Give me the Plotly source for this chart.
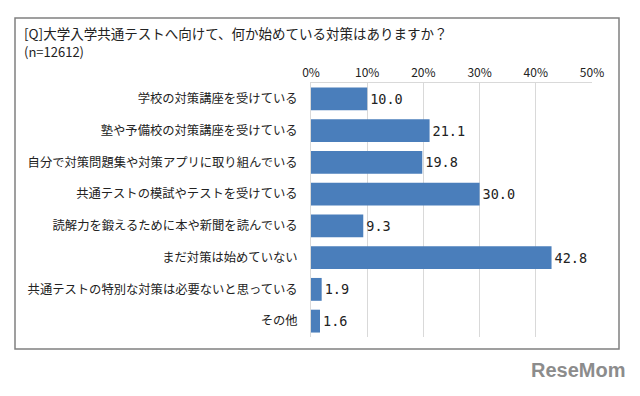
import plotly.graph_objects as go

categories = [
    "学校の対策講座を受けている",
    "塾や予備校の対策講座を受けている",
    "自分で対策問題集や対策アプリに取り組んでいる",
    "共通テストの模試やテストを受けている",
    "読解力を鍛えるために本や新聞を読んでいる",
    "まだ対策は始めていない",
    "共通テストの特別な対策は必要ないと思っている",
    "その他",
]
values = [10.0, 21.1, 19.8, 30.0, 9.3, 42.8, 1.9, 1.6]
tick_values = [0, 10, 20, 30, 40, 50]
tick_labels = ["0%", "10%", "20%", "30%", "40%", "50%"]
title_text = "[Q]大学入学共通テストへ向けて、何か始めている対策はありますか？"
subtitle_text = "(n=12612)"

# page body has an 8px margin; the figure fills the rest of the 640x396 window
OX, OY = 8, 8
W, H = 624, 380
JP = "Noto Sans CJK JP, sans-serif"


def px(x):
    return (x - OX) / W


def py(y):
    return 1 - (y - OY) / H


fig = go.Figure(
    go.Bar(
        x=values,
        y=categories,
        orientation="h",
        marker=dict(color="#4A7EBB", line=dict(width=0)),
        text=[f"{v:.1f}" for v in values],
        textposition="outside",
        textfont=dict(family="DejaVu Sans Mono, monospace", size=13.5, color="#222222"),
        cliponaxis=False,
        hoverinfo="skip",
    )
)

fig.update_layout(
    width=W,
    height=H,
    autosize=False,
    margin=dict(l=0, r=0, t=0, b=0, pad=0, autoexpand=False),
    paper_bgcolor="white",
    plot_bgcolor="white",
    bargap=0.28,
    showlegend=False,
    font=dict(family=JP, size=12, color="#222222"),
    xaxis=dict(
        domain=[px(311), px(592)],
        range=[0, 50],
        side="top",
        tickvals=tick_values,
        ticktext=tick_labels,
        showgrid=True,
        gridcolor="#D9D9D9",
        gridwidth=1,
        zeroline=False,
        showline=True,
        linecolor="#D9D9D9",
        mirror=False,
        ticks="",
        automargin=False,
        tickfont=dict(family=JP, size=12, color="#222222"),
        fixedrange=True,
    ),
    yaxis=dict(
        domain=[py(337), py(83)],
        autorange="reversed",
        showgrid=False,
        showline=True,
        linecolor="#D9D9D9",
        ticks="",
        automargin=False,
        ticklabelstandoff=10,
        tickfont=dict(family=JP, size=12.3, color="#222222"),
        fixedrange=True,
    ),
    shapes=[
        dict(
            type="rect", xref="paper", yref="paper",
            x0=px(15), x1=px(619), y0=py(349), y1=py(18),
            line=dict(color="#808080", width=1.5),
            fillcolor="rgba(0,0,0,0)",
            layer="below",
        )
    ],
    annotations=[
        dict(
            text=title_text, xref="paper", yref="paper",
            x=px(22), y=py(33), xanchor="left", yanchor="middle",
            showarrow=False, font=dict(family=JP, size=13.5, color="#222222"),
        ),
        dict(
            text=subtitle_text, xref="paper", yref="paper",
            x=px(22), y=py(51), xanchor="left", yanchor="middle",
            showarrow=False, font=dict(family=JP, size=13, color="#222222"),
        ),
        dict(
            text="<b>ReseMom</b>", xref="paper", yref="paper",
            x=px(627), y=py(370), xanchor="right", yanchor="middle",
            showarrow=False, font=dict(family="Arial, Liberation Sans, sans-serif", size=20, color="#8C8C8C"),
        ),
    ],
)

fig.write_html("out.html")
